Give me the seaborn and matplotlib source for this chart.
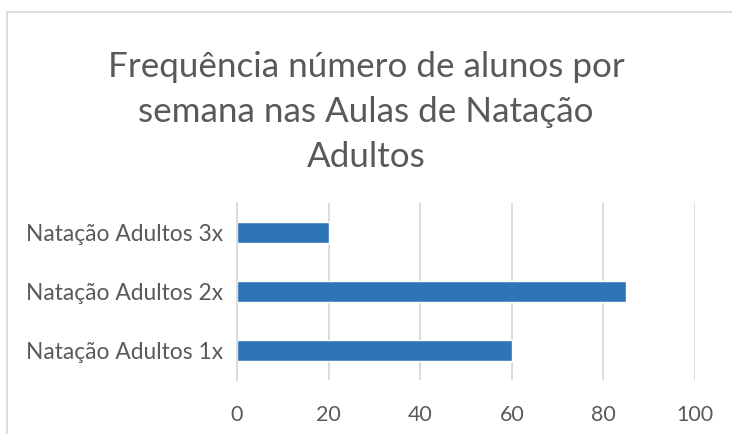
import matplotlib
matplotlib.use("Agg")
import matplotlib.pyplot as plt
import seaborn as sns
import pandas as pd
from matplotlib.patches import Rectangle

# data
categorias = ["Natação Adultos 3x", "Natação Adultos 2x", "Natação Adultos 1x"]
alunos = [20, 85, 60]
x_ticks = [0, 20, 40, 60, 80, 100]

titulo = "Frequência número de alunos por\nsemana nas Aulas de Natação\nAdultos"

BAR = "#2E75B6"
GRID = "#D9D9D9"
TXT = "#595959"

sns.set_theme(style="white")
plt.rcParams["font.family"] = ["Lato", "DejaVu Sans"]

df = pd.DataFrame({"categoria": categorias, "alunos": alunos})

fig = plt.figure(figsize=(7.32, 4.34), dpi=100)
ax = fig.add_axes([237 / 732, 54 / 434, 458 / 732, 177 / 434])

sns.barplot(data=df, x="alunos", y="categoria", color=BAR, width=0.35,
            saturation=1, ax=ax)

ax.set_xlim(0, 100)
ax.set_xticks(x_ticks)
ax.set_ylim(2.5, -0.5)
ax.set_xlabel("")
ax.set_ylabel("")
ax.grid(axis="x", color=GRID, lw=1.3)
ax.set_axisbelow(True)
for s in ["top", "right", "bottom"]:
    ax.spines[s].set_visible(False)
ax.spines["left"].set_color(GRID)
ax.spines["left"].set_linewidth(1.3)
ax.tick_params(axis="x", length=0, pad=18, labelsize=15.4, colors=TXT)
ax.tick_params(axis="y", length=0, pad=10, labelsize=16.4, colors=TXT)

fig.text(0.5, 1 - 112 / 434, titulo, ha="center", va="center",
         fontsize=25.2, color=TXT, linespacing=1.5)

# chart frame (cut by the image on right and bottom)
fig.patches.append(Rectangle((7.5 / 732, -0.1), 1.2, 1 - 12 / 434 + 0.1,
                             transform=fig.transFigure, fill=False,
                             edgecolor=GRID, lw=1.3))

fig.savefig("out.png", dpi=100)
